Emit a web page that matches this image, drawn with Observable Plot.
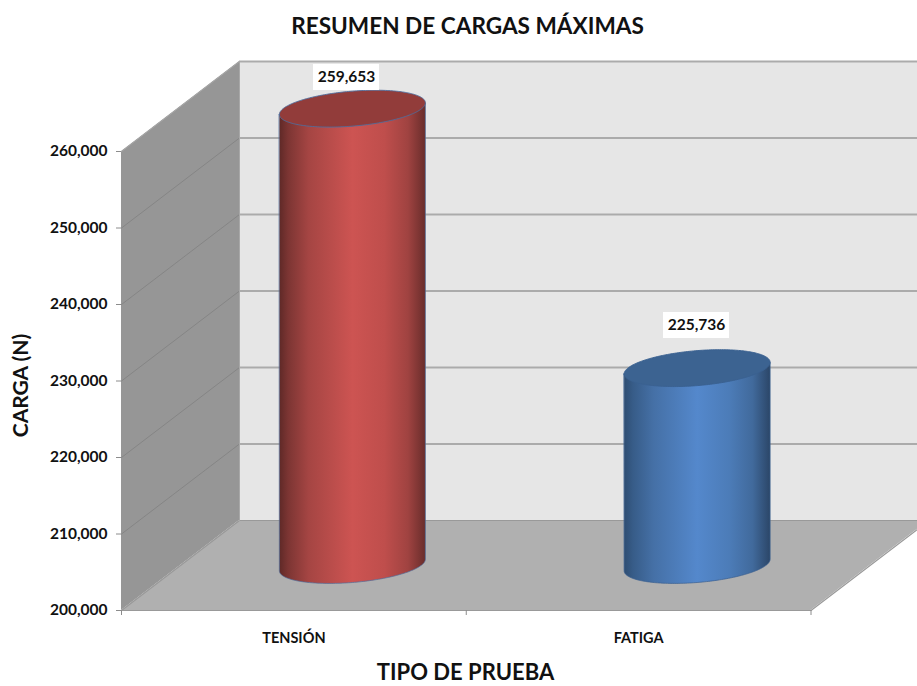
<!DOCTYPE html>
<html>
<head>
<meta charset="utf-8">
<script src="https://cdn.jsdelivr.net/npm/d3@7"></script>
<script src="https://cdn.jsdelivr.net/npm/@observablehq/plot@0.6"></script>
<style>html,body{margin:0;padding:0;background:#fff;overflow:hidden}svg{display:block}</style>
</head>
<body>
<div id="chart"></div>
<script>
const categories = ["TENSIÓN", "FATIGA"];
const values = [259653, 225736];
const yTicks = [200000, 210000, 220000, 230000, 240000, 250000, 260000];
const gradientIds = ["cylRed", "cylBlue"];
const topColors = ["#923c3a", "#3c6391"];
const edgeColors = ["#4f6d9c", "#3a6090"];
const gradients = [
  [[0,"#5f2927"],[0.06,"#7c3533"],[0.2,"#a54543"],[0.5,"#cd5452"],[0.72,"#bf4e4c"],[0.88,"#a04341"],[1,"#692d2b"]],
  [[0,"#2e4d72"],[0.06,"#375c88"],[0.2,"#4570a6"],[0.5,"#5488cc"],[0.72,"#4c7cb8"],[0.88,"#416a9c"],[1,"#2b4668"]]
];
const title = "RESUMEN DE CARGAS MÁXIMAS";
const yTitle = "CARGA (N)";
const xTitle = "TIPO DE PRUEBA";

// conversion of the picture's 3D offsets into data units
const W = 917, H = 686, L = 121, R = 810.5, T = 151, B = 610;
const Y0 = 200000, Y1 = 260000;
const ux = p => p * 2 / (R - L);
const uy = p => p * (Y1 - Y0) / (B - T);
const depthX = ux(118), depthY = uy(90);
const font = "Lato, Carlito, 'Open Sans', sans-serif";
const fromPxX = p => ux(p - L);
const fromPxY = p => Y0 + uy(B - p);

const cylA = ux(73), cylB = uy(17.5), cylS = uy(5.8);
const samples = d3.range(0, 121).map(i => -Math.cos(Math.PI * i / 120));
const ellipse = (i, v) => {
  const cx = i + 0.5 + depthX / 2, cy = v + depthY / 2;
  return samples.map(u => {
    const r = Math.sqrt(Math.max(0, 1 - u * u));
    return {x: cx + cylA * u, low: cy + cylS * u - cylB * r, high: cy + cylS * u + cylB * r, mid: cy + cylS * u};
  });
};
const labelCentres = [[346, 77], [696, 325]];

const defs = () => {
  const d = d3.create("svg:defs");
  gradients.forEach((stops, k) => {
    const g = d.append("linearGradient").attr("id", gradientIds[k]).attr("x1", 0).attr("x2", 1).attr("y1", 0).attr("y2", 0);
    stops.forEach(([o, c]) => g.append("stop").attr("offset", o).attr("stop-color", c));
  });
  return d.node();
};

const wallGrid = yTicks.slice(1, -1);
const marks = [
  defs,
  // side wall
  Plot.areaY([{a: 0, b: Y0, c: Y1}, {a: depthX, b: Y0 + depthY, c: Y1 + depthY}], {x: "a", y1: "b", y2: "c", fill: "#969696"}),
  // back wall
  Plot.areaY([{a: depthX}, {a: 2 + depthX}], {x: "a", y1: () => Y0 + depthY, y2: () => Y1 + depthY, fill: "#e6e6e6"}),
  // floor
  Plot.areaX([{y: Y0, a: 0, b: 2}, {y: Y0 + depthY, a: depthX, b: 2 + depthX}], {y: "y", x1: "a", x2: "b", fill: "#b0b0b0"}),
  // grid on the side wall
  ...wallGrid.map(v => Plot.line([[0, v], [depthX, v + depthY]], {stroke: "#858585", strokeWidth: 1})),
  // grid on the back wall
  Plot.ruleY([...wallGrid, Y1].map(v => v + depthY), {x1: depthX, x2: 2 + depthX, stroke: "#ababab", strokeWidth: 2}),
  Plot.line([[depthX, Y0 + depthY], [2 + depthX, Y0 + depthY], [2, Y0], [0, Y0], [depthX, Y0 + depthY]], {stroke: "#999", strokeWidth: 1.2}),
  Plot.line([[depthX, Y0 + depthY], [depthX, Y1 + depthY], [0, Y1]], {stroke: "#a8a8a8", strokeWidth: 1}),
  // cylinders
  ...values.flatMap((v, i) => {
    const base = ellipse(i, Y0), top = ellipse(i, v);
    const body = base.map((p, k) => ({x: p.x, y1: p.low, y2: top[k].mid}));
    return [
      Plot.areaY(body, {x: "x", y1: "y1", y2: "y2", fill: `url(#${gradientIds[i]})`, stroke: edgeColors[i], strokeWidth: 1, strokeOpacity: 0.7}),
      Plot.areaY(top, {x: "x", y1: "low", y2: "high", fill: topColors[i], stroke: edgeColors[i], strokeWidth: 1, strokeOpacity: 0.9})
    ];
  }),
  // data labels
  Plot.rect(values, {
    x1: (v, i) => fromPxX(labelCentres[i][0] - 33), x2: (v, i) => fromPxX(labelCentres[i][0] + 33),
    y1: (v, i) => fromPxY(labelCentres[i][1] + 13), y2: (v, i) => fromPxY(labelCentres[i][1] - 13),
    fill: "#fff"
  }),
  Plot.text(values, {
    x: (v, i) => fromPxX(labelCentres[i][0]), y: (v, i) => fromPxY(labelCentres[i][1]),
    text: d3.format(","), fontFamily: font, fontWeight: 700, fontSize: 15.5, fill: "#111"
  }),
  // axes
  Plot.axisY(yTicks, {tickSize: 5, tickPadding: 9, tickFormat: d3.format(","), stroke: "#8c8c8c", fill: "#111", fontFamily: font, fontWeight: 700, fontSize: 15.5, label: null}),
  Plot.axisX([0, 1, 2], {tickSize: 5, tickFormat: () => null, stroke: "#8c8c8c", label: null}),
  Plot.axisX([0.5, 1.5], {tickSize: 0, tickPadding: 22, tickFormat: d => categories[d - 0.5], fill: "#111", fontFamily: font, fontWeight: 700, fontSize: 14.5, label: null}),
  // titles
  Plot.text([title], {x: () => fromPxX(467), y: () => fromPxY(26), text: d => d, fontFamily: font, fontWeight: 700, fontSize: 22.6, fill: "#111"}),
  Plot.text([xTitle], {x: () => fromPxX(465), y: () => fromPxY(672.5), text: d => d, fontFamily: font, fontWeight: 700, fontSize: 22, fill: "#111"}),
  Plot.text([yTitle], {x: () => fromPxX(21), y: () => fromPxY(385), text: d => d, rotate: -90, fontFamily: font, fontWeight: 700, fontSize: 21, fill: "#111"})
];

const chart = Plot.plot({
  width: W, height: H,
  marginLeft: L, marginRight: W - R, marginTop: T, marginBottom: H - B,
  style: {background: "#fff", overflow: "hidden"},
  x: {type: "linear", domain: [0, 2]},
  y: {type: "linear", domain: [Y0, Y1]},
  marks
});
document.getElementById("chart").append(chart);
</script>
</body>
</html>
